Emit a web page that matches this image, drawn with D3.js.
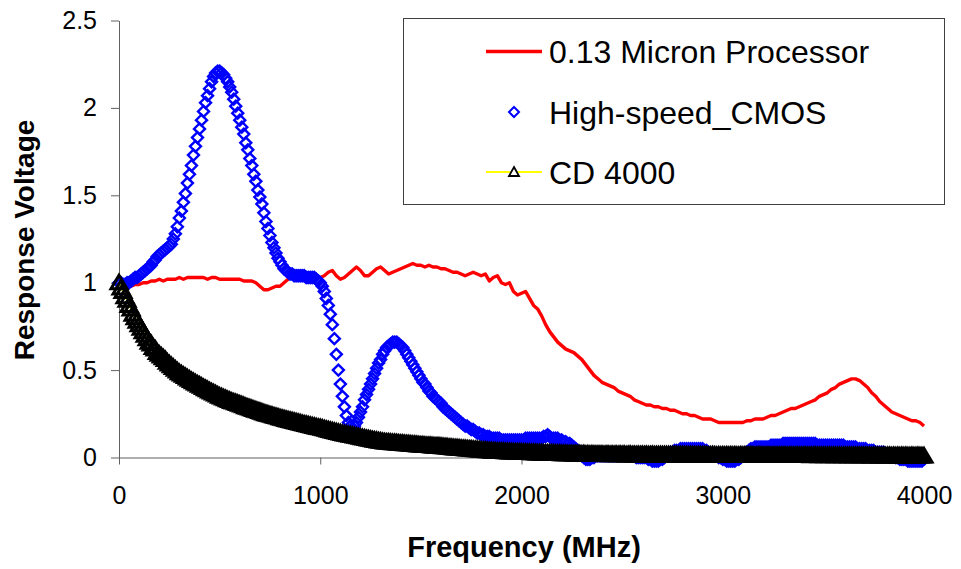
<!DOCTYPE html>
<html>
<head>
<meta charset="utf-8">
<script src="https://cdn.jsdelivr.net/npm/d3@7"></script>
<style>
  html, body { margin: 0; padding: 0; background: #fff; }
  svg { display: block; font-family: "Liberation Sans", Arial, sans-serif; }
</style>
</head>
<body>
<svg id="chart" width="961" height="569"></svg>
<script>
// ---------- DATA ----------
const seriesNames = ["0.13 Micron Processor", "High-speed_CMOS", "CD 4000"];
const xTickValues = [0, 1000, 2000, 3000, 4000];
const yTickValues = [0, 0.5, 1, 1.5, 2, 2.5];

// frequency grid of the marker series (MHz, every 10 MHz)
const freqMarkers = d3.range(0, 4001, 10);
// frequency grid of the red line series (MHz, every 20 MHz)
const freqLine = d3.range(0, 4001, 20);

// 0.13 Micron Processor (red line), one value per 20 MHz
const micronValues = [
  1.00, 0.99, 0.98, 0.98, 0.99, 0.99, 1.00, 1.00, 1.01, 1.01,
  1.02, 1.01, 1.02, 1.02, 1.02, 1.03, 1.02, 1.03, 1.03, 1.03,
  1.03, 1.03, 1.02, 1.03, 1.03, 1.02, 1.02, 1.02, 1.02, 1.02,
  1.02, 1.01, 1.01, 1.01, 1.00, 0.98, 0.96, 0.96, 0.97, 0.98,
  0.98, 1.00, 1.02, 1.04, 1.04, 1.03, 1.02, 1.04, 1.05, 1.04,
  1.03, 1.04, 1.06, 1.07, 1.04, 1.02, 1.03, 1.05, 1.07, 1.09,
  1.07, 1.04, 1.04, 1.06, 1.08, 1.09, 1.07, 1.05, 1.06, 1.07,
  1.08, 1.09, 1.10, 1.11, 1.10, 1.10, 1.09, 1.10, 1.09, 1.09,
  1.08, 1.08, 1.07, 1.06, 1.06, 1.05, 1.04, 1.05, 1.06, 1.05,
  1.04, 1.05, 1.01, 1.03, 1.04, 1.00, 0.99, 1.00, 0.95, 0.93,
  0.94, 0.95, 0.91, 0.87, 0.85, 0.81, 0.76, 0.72, 0.69, 0.66,
  0.64, 0.62, 0.61, 0.60, 0.58, 0.56, 0.53, 0.50, 0.47, 0.45,
  0.43, 0.42, 0.41, 0.40, 0.38, 0.37, 0.36, 0.35, 0.33, 0.32,
  0.31, 0.30, 0.30, 0.29, 0.29, 0.28, 0.28, 0.27, 0.27, 0.26,
  0.25, 0.25, 0.24, 0.24, 0.23, 0.22, 0.22, 0.22, 0.21, 0.20,
  0.20, 0.20, 0.20, 0.20, 0.20, 0.20, 0.21, 0.21, 0.22, 0.22,
  0.22, 0.23, 0.24, 0.24, 0.25, 0.26, 0.27, 0.28, 0.28, 0.29,
  0.30, 0.31, 0.32, 0.33, 0.35, 0.36, 0.37, 0.39, 0.40, 0.42,
  0.43, 0.44, 0.45, 0.45, 0.44, 0.42, 0.40, 0.37, 0.35, 0.32,
  0.30, 0.28, 0.26, 0.25, 0.24, 0.23, 0.22, 0.21, 0.21, 0.20,
  0.18
];

// High-speed_CMOS (blue diamonds), one value per 10 MHz
const cmosValues = [
  1.00, 1.00, 0.99, 0.99, 1.00, 1.00, 1.01, 1.02, 1.03, 1.03,
  1.04, 1.05, 1.06, 1.07, 1.08, 1.09, 1.10, 1.12, 1.13, 1.15,
  1.16, 1.17, 1.18, 1.19, 1.20, 1.21, 1.22, 1.25, 1.28, 1.32,
  1.37, 1.41, 1.46, 1.51, 1.57, 1.62, 1.67, 1.73, 1.78, 1.83,
  1.88, 1.93, 1.98, 2.03, 2.07, 2.11, 2.15, 2.18, 2.20, 2.21,
  2.21, 2.20, 2.19, 2.17, 2.15, 2.12, 2.09, 2.05, 2.01, 1.97,
  1.93, 1.89, 1.85, 1.80, 1.76, 1.71, 1.67, 1.62, 1.58, 1.53,
  1.49, 1.45, 1.40, 1.35, 1.31, 1.27, 1.23, 1.20, 1.17, 1.14,
  1.12, 1.10, 1.08, 1.07, 1.06, 1.05, 1.05, 1.04, 1.04, 1.04,
  1.04, 1.04, 1.04, 1.03, 1.03, 1.03, 1.03, 1.03, 1.02, 1.01,
  1.00, 0.98, 0.95, 0.91, 0.87, 0.82, 0.76, 0.68, 0.59, 0.50,
  0.42, 0.35, 0.29, 0.24, 0.20, 0.18, 0.17, 0.18, 0.20, 0.23,
  0.26, 0.29, 0.33, 0.36, 0.39, 0.42, 0.45, 0.48, 0.51, 0.54,
  0.56, 0.59, 0.61, 0.63, 0.64, 0.65, 0.66, 0.66, 0.66, 0.65,
  0.64, 0.63, 0.61, 0.59, 0.57, 0.55, 0.53, 0.51, 0.49, 0.47,
  0.45, 0.43, 0.42, 0.40, 0.38, 0.37, 0.35, 0.34, 0.33, 0.32,
  0.31, 0.29, 0.28, 0.27, 0.26, 0.25, 0.24, 0.23, 0.22, 0.21,
  0.20, 0.19, 0.18, 0.18, 0.17, 0.16, 0.16, 0.15, 0.14, 0.14,
  0.13, 0.13, 0.12, 0.12, 0.12, 0.11, 0.11, 0.11, 0.11, 0.11,
  0.10, 0.10, 0.10, 0.10, 0.10, 0.10, 0.10, 0.10, 0.10, 0.10,
  0.10, 0.10, 0.11, 0.11, 0.11, 0.11, 0.11, 0.11, 0.11, 0.11,
  0.11, 0.12, 0.12, 0.13, 0.12, 0.11, 0.11, 0.11, 0.11, 0.10,
  0.10, 0.09, 0.09, 0.08, 0.08, 0.07, 0.06, 0.05, 0.04, 0.03,
  0.01, 0.00, -0.01, -0.01, -0.01, 0.00, 0.00, 0.01, 0.01, 0.01,
  0.01, 0.01, 0.01, 0.01, 0.01, 0.01, 0.01, 0.01, 0.01, 0.01,
  0.01, 0.01, 0.01, 0.01, 0.01, 0.01, 0.01, 0.00, 0.00, 0.00,
  0.00, 0.00, 0.00, -0.01, -0.01, -0.02, -0.02, -0.02, -0.02, -0.01,
  -0.01, 0.00, 0.01, 0.02, 0.03, 0.03, 0.04, 0.04, 0.04, 0.05,
  0.05, 0.05, 0.05, 0.05, 0.05, 0.05, 0.05, 0.05, 0.05, 0.05,
  0.05, 0.04, 0.04, 0.03, 0.02, 0.02, 0.01, 0.01, 0.00, 0.00,
  -0.01, -0.01, -0.02, -0.02, -0.02, -0.02, -0.02, -0.01, -0.01, 0.00,
  0.01, 0.02, 0.03, 0.04, 0.05, 0.05, 0.06, 0.06, 0.06, 0.06,
  0.06, 0.06, 0.06, 0.06, 0.07, 0.07, 0.07, 0.07, 0.07, 0.07,
  0.08, 0.08, 0.08, 0.08, 0.08, 0.08, 0.08, 0.08, 0.08, 0.08,
  0.08, 0.08, 0.08, 0.08, 0.08, 0.08, 0.08, 0.07, 0.07, 0.07,
  0.07, 0.07, 0.07, 0.07, 0.07, 0.07, 0.07, 0.07, 0.07, 0.07,
  0.07, 0.06, 0.06, 0.06, 0.06, 0.06, 0.06, 0.05, 0.05, 0.05,
  0.05, 0.05, 0.04, 0.04, 0.04, 0.04, 0.03, 0.03, 0.03, 0.03,
  0.03, 0.02, 0.02, 0.02, 0.01, 0.01, 0.00, 0.00, -0.01, -0.01,
  -0.01, -0.01, -0.02, -0.02, -0.02, -0.02, -0.02, -0.02, -0.02, -0.02,
  -0.01
];

// CD 4000 (black triangles on a yellow line), one value per 10 MHz
const cd4000Values = [
  1.00, 0.97, 0.95, 0.92, 0.90, 0.87, 0.85, 0.82, 0.80, 0.78,
  0.76, 0.74, 0.72, 0.70, 0.68, 0.66, 0.65, 0.63, 0.62, 0.60,
  0.59, 0.58, 0.57, 0.56, 0.545, 0.535, 0.525, 0.515, 0.505, 0.495,
  0.485, 0.478, 0.47, 0.463, 0.455, 0.448, 0.44, 0.433, 0.426, 0.42,
  0.414, 0.407, 0.40, 0.394, 0.388, 0.381, 0.375, 0.369, 0.363, 0.357,
  0.351, 0.346, 0.341, 0.336, 0.331, 0.326, 0.321, 0.317, 0.313, 0.309,
  0.305, 0.30, 0.296, 0.291, 0.287, 0.283, 0.279, 0.275, 0.271, 0.267,
  0.263, 0.259, 0.255, 0.251, 0.248, 0.244, 0.241, 0.237, 0.234, 0.231,
  0.227, 0.224, 0.221, 0.218, 0.215, 0.212, 0.209, 0.206, 0.203, 0.20,
  0.197, 0.194, 0.191, 0.189, 0.186, 0.183, 0.18, 0.178, 0.175, 0.172,
  0.17, 0.167, 0.164, 0.161, 0.158, 0.155, 0.152, 0.149, 0.146, 0.143,
  0.14, 0.137, 0.135, 0.133, 0.13, 0.128, 0.126, 0.123, 0.121, 0.118,
  0.116, 0.113, 0.111, 0.108, 0.106, 0.104, 0.101, 0.099, 0.097, 0.095,
  0.093, 0.091, 0.089, 0.088, 0.087, 0.086, 0.085, 0.084, 0.083, 0.082,
  0.081, 0.080, 0.079, 0.078, 0.077, 0.076, 0.075, 0.074, 0.073, 0.072,
  0.071, 0.070, 0.069, 0.068, 0.068, 0.067, 0.066, 0.065, 0.065, 0.064,
  0.063, 0.062, 0.061, 0.060, 0.058, 0.057, 0.056, 0.055, 0.054, 0.053,
  0.052, 0.051, 0.050, 0.049, 0.048, 0.047, 0.046, 0.045, 0.044, 0.043,
  0.042, 0.041, 0.040, 0.039, 0.038, 0.037, 0.036, 0.036, 0.035, 0.035,
  0.034, 0.034, 0.033, 0.033, 0.032, 0.032, 0.031, 0.031, 0.030, 0.030,
  0.030, 0.029, 0.029, 0.028, 0.028, 0.027, 0.027, 0.027, 0.026, 0.026,
  0.026, 0.025, 0.025, 0.025, 0.024, 0.024, 0.024, 0.023, 0.023, 0.023,
  0.022, 0.022, 0.022, 0.021, 0.021, 0.021, 0.020, 0.020, 0.020, 0.020,
  0.019, 0.020, 0.018, 0.019, 0.017, 0.019, 0.018, 0.017, 0.018, 0.017,
  0.018, 0.016, 0.017, 0.018, 0.016, 0.017, 0.016, 0.017, 0.016, 0.017,
  0.016, 0.017, 0.015, 0.016, 0.017, 0.015, 0.016, 0.015, 0.016, 0.015,
  0.016, 0.015, 0.016, 0.014, 0.015, 0.016, 0.014, 0.015, 0.014, 0.015,
  0.014, 0.015, 0.014, 0.015, 0.013, 0.014, 0.015, 0.014, 0.013, 0.014,
  0.014, 0.013, 0.014, 0.013, 0.014, 0.013, 0.014, 0.013, 0.014, 0.013,
  0.013, 0.014, 0.013, 0.012, 0.013, 0.014, 0.013, 0.012, 0.013, 0.012,
  0.013, 0.012, 0.013, 0.012, 0.013, 0.012, 0.013, 0.012, 0.012, 0.013,
  0.012, 0.013, 0.012, 0.012, 0.013, 0.012, 0.011, 0.012, 0.013, 0.012,
  0.012, 0.011, 0.012, 0.012, 0.011, 0.012, 0.011, 0.012, 0.011, 0.012,
  0.011, 0.012, 0.011, 0.011, 0.012, 0.011, 0.011, 0.012, 0.011, 0.011,
  0.011, 0.012, 0.011, 0.011, 0.010, 0.011, 0.012, 0.011, 0.010, 0.011,
  0.011, 0.010, 0.011, 0.011, 0.010, 0.011, 0.010, 0.011, 0.010, 0.011,
  0.010, 0.011, 0.010, 0.010, 0.011, 0.010, 0.010, 0.011, 0.010, 0.010,
  0.010, 0.011, 0.010, 0.010, 0.009, 0.010, 0.011, 0.010, 0.009, 0.010,
  0.010, 0.009, 0.010, 0.010, 0.009, 0.010, 0.009, 0.010, 0.009, 0.010,
  0.009, 0.010, 0.009, 0.009, 0.010, 0.009, 0.009, 0.010, 0.009, 0.009,
  0.009
];

const xTitle = "Frequency (MHz)";
const yTitle = "Response Voltage";

// ---------- CHART ----------
const svg = d3.select("#chart");
const x = d3.scaleLinear().domain([0, 4000]).range([119, 924]);
const y = d3.scaleLinear().domain([0, 2.5]).range([457.5, 20.5]);

const axisColor = "#606060";

// axes
const yAxis = svg.append("g")
  .attr("transform", `translate(${x(0)},0)`)
  .call(d3.axisLeft(y).tickValues(yTickValues).tickSize(8).tickSizeOuter(0)
        .tickPadding(14).tickFormat(d3.format("~g")));
const xAxis = svg.append("g")
  .attr("transform", `translate(0,${y(0)})`)
  .call(d3.axisBottom(x).tickValues(xTickValues).tickSize(7).tickSizeOuter(0)
        .tickPadding(22).tickFormat(d3.format("d")));
[xAxis, yAxis].forEach(g => {
  g.select(".domain").attr("stroke", axisColor).attr("stroke-width", 1);
  g.selectAll(".tick line").attr("stroke", axisColor).attr("stroke-width", 1);
  g.selectAll(".tick text").attr("fill", "#000")
    .style("font-family", "'Liberation Sans', Arial, sans-serif").style("font-size", "25px");
});

// marker shapes
const diamondPath = "M0,-5.5L5.5,0L0,5.5L-5.5,0Z";
const trianglePath = "M0,-7.5L8,6L-8,6Z";
const legendDiamondPath = "M0,-5L5,0L0,5L-5,0Z";
const legendTrianglePath = "M0,-5L5,4L-5,4Z";

// red line
const micronData = freqLine.map((f, i) => [f, micronValues[i]]);
svg.append("path")
  .datum(micronData)
  .attr("fill", "none")
  .attr("stroke", "#ff0000")
  .attr("stroke-width", 3.4)
  .attr("stroke-linejoin", "round")
  .attr("d", d3.line().x(d => x(d[0])).y(d => y(d[1])));

// blue diamonds
const cmosData = freqMarkers.map((f, i) => [f, cmosValues[i]]);
svg.append("g").selectAll("path")
  .data(cmosData)
  .join("path")
  .attr("d", diamondPath)
  .attr("transform", d => `translate(${x(d[0])},${y(d[1])})`)
  .attr("fill", "none")
  .attr("stroke", "#0000ff")
  .attr("stroke-width", 2.4);

// CD 4000 : yellow line + black triangles
const cdData = freqMarkers.map((f, i) => [f, cd4000Values[i]]);
svg.append("path")
  .datum(cdData)
  .attr("fill", "none")
  .attr("stroke", "#ffff00")
  .attr("stroke-width", 2)
  .attr("d", d3.line().x(d => x(d[0])).y(d => y(d[1])));
svg.append("g").selectAll("path")
  .data(cdData)
  .join("path")
  .attr("d", trianglePath)
  .attr("transform", d => `translate(${x(d[0])},${y(d[1])})`)
  .attr("fill", "none")
  .attr("stroke", "#000")
  .attr("stroke-width", 3);

// axis titles
svg.append("text")
  .attr("x", 524).attr("y", 557)
  .attr("text-anchor", "middle")
  .style("font-size", "29px").style("font-weight", "bold")
  .attr("fill", "#000")
  .text(xTitle);
svg.append("text")
  .attr("transform", "translate(34,240) rotate(-90)")
  .attr("text-anchor", "middle")
  .style("font-size", "28px").style("font-weight", "bold")
  .attr("fill", "#000")
  .text(yTitle);

// legend
const legend = svg.append("g");
legend.append("rect")
  .attr("x", 403.5).attr("y", 18.5).attr("width", 541).attr("height", 186)
  .attr("fill", "#fff").attr("stroke", "#404040").attr("stroke-width", 1);
const legY = [51.5, 112, 172];
const symX0 = 486, symX1 = 542, symXc = 514, textX = 549;
// entry 1
legend.append("line").attr("x1", symX0).attr("x2", symX1).attr("y1", legY[0]).attr("y2", legY[0])
  .attr("stroke", "#ff0000").attr("stroke-width", 3.4);
// entry 2
legend.append("path").attr("d", legendDiamondPath).attr("transform", `translate(${symXc},${legY[1]})`)
  .attr("fill", "none").attr("stroke", "#0000ff").attr("stroke-width", 2);
// entry 3
legend.append("line").attr("x1", symX0).attr("x2", symX1).attr("y1", legY[2]).attr("y2", legY[2])
  .attr("stroke", "#ffff00").attr("stroke-width", 2);
legend.append("path").attr("d", legendTrianglePath).attr("transform", `translate(${symXc},${legY[2]})`)
  .attr("fill", "#fff").attr("stroke", "#000").attr("stroke-width", 1.8);
seriesNames.forEach((name, i) => {
  legend.append("text")
    .attr("x", textX).attr("y", legY[i] + 11.5)
    .style("font-size", "32px")
    .attr("fill", "#000")
    .text(name);
});
</script>
</body>
</html>
